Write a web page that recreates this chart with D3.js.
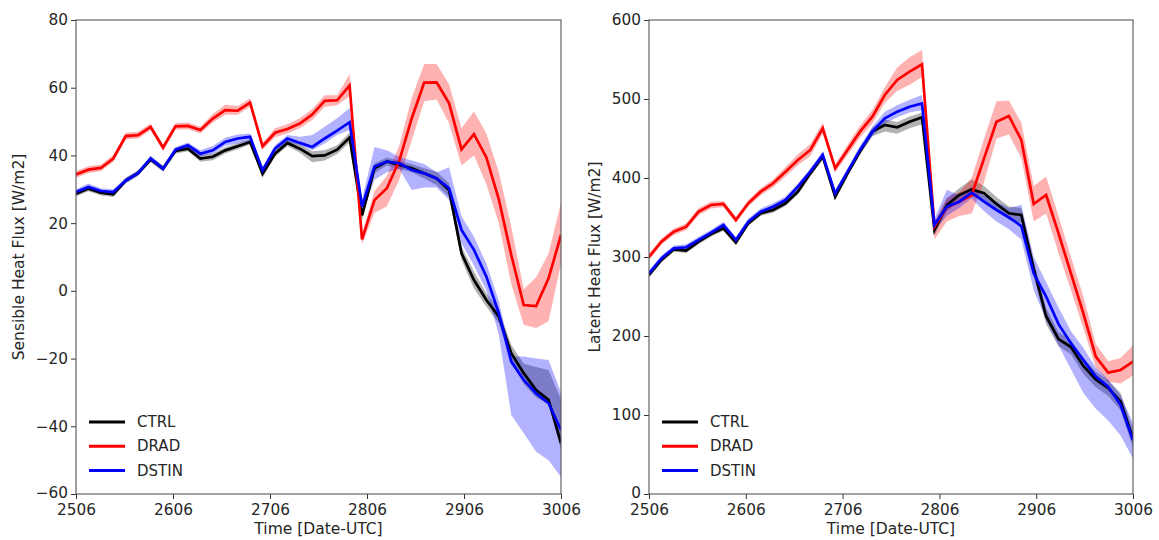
<!DOCTYPE html>
<html>
<head>
<meta charset="utf-8">
<script src="https://cdn.jsdelivr.net/npm/d3@7"></script>
<style>
  html, body { margin: 0; padding: 0; background: #fff; }
  svg { display: block; }
  text { font-family: "DejaVu Sans", sans-serif; fill: #262626; }
</style>
</head>
<body>
<svg id="chart" width="1159" height="540"></svg>
<script>
// 3-hourly ensemble output, 25/06 00 UTC to 30/06 21 UTC (40 steps)
const stepCount = 40;
const dayLabels = ["2506", "2606", "2706", "2806", "2906", "3006"];
const runNames = ["CTRL", "DRAD", "DSTIN"];
const runColors = ["#000000", "#ff0000", "#0000ff"];

// ---- Sensible heat flux [W/m2]: ensemble mean, lower and upper envelope ----
const shfCtrl = [28.7, 30.2, 29.0, 28.5, 32.6, 34.8, 38.8, 36.1, 41.3, 42.0, 39.1, 39.6, 41.5, 42.7, 44.0, 34.6, 40.5, 43.7, 42.0, 39.8, 40.0, 41.7, 45.3, 22.3, 36.2, 38.2, 37.2, 36.2, 34.7, 33.2, 29.8, 11.1, 3.2, -2.7, -7.6, -18.4, -24.3, -29.3, -32.2, -45.0];
const shfCtrlLo = [27.9, 29.4, 28.2, 27.7, 31.8, 34.0, 38.0, 35.2, 40.5, 41.2, 38.1, 38.6, 40.6, 41.8, 43.2, 33.4, 39.6, 42.8, 40.8, 38.0, 38.5, 40.4, 43.8, 20.8, 34.7, 37.0, 36.0, 35.0, 33.2, 31.2, 27.8, 9.1, 0.7, -4.7, -9.6, -20.9, -27.5, -31.5, -33.5, -47.0];
const shfCtrlHi = [29.5, 31.0, 29.8, 29.3, 33.4, 35.6, 39.6, 37.0, 42.1, 42.8, 40.1, 40.6, 42.4, 43.6, 44.8, 35.8, 41.4, 44.6, 43.2, 41.2, 41.5, 43.0, 46.8, 23.8, 37.7, 39.4, 38.4, 37.4, 36.2, 35.2, 31.8, 13.1, 5.7, -0.7, -5.6, -15.9, -21.5, -22.5, -23.4, -32.0];

const shfDrad = [34.4, 35.8, 36.3, 39.1, 45.7, 46.0, 48.4, 42.3, 48.6, 48.7, 47.5, 50.9, 53.4, 53.2, 55.6, 42.7, 46.7, 47.8, 49.4, 52.1, 56.1, 56.3, 60.7, 15.2, 26.8, 30.3, 38.5, 51.0, 61.5, 61.6, 55.4, 41.8, 46.3, 39.4, 27.0, 10.6, -4.2, -4.5, 3.7, 16.5];
const shfDradLo = [33.4, 34.8, 35.3, 38.1, 44.7, 45.0, 47.4, 41.3, 47.6, 47.7, 46.5, 49.7, 52.0, 52.0, 54.4, 41.7, 45.4, 46.5, 48.0, 50.5, 54.4, 54.8, 57.5, 13.7, 23.0, 25.0, 33.0, 44.5, 56.0, 56.5, 49.5, 37.0, 40.0, 31.5, 20.0, 2.0, -10.0, -11.0, -9.0, 8.0];
const shfDradHi = [35.4, 36.8, 37.3, 40.1, 46.7, 47.0, 49.4, 43.3, 49.6, 49.7, 48.5, 52.2, 55.0, 54.6, 56.9, 43.7, 48.0, 49.2, 51.0, 53.7, 57.8, 57.8, 64.0, 16.7, 29.5, 34.0, 43.0, 57.0, 67.0, 67.0, 61.0, 48.0, 53.0, 46.5, 35.0, 19.0, 0.5, 4.0, 11.0, 26.0];

const shfDstin = [29.2, 30.7, 29.5, 29.2, 32.6, 34.8, 39.1, 36.1, 41.7, 43.0, 40.5, 41.5, 44.0, 45.0, 45.5, 35.6, 42.0, 45.0, 43.7, 42.5, 45.0, 47.3, 49.8, 24.9, 36.7, 38.2, 37.7, 35.7, 34.7, 33.2, 30.3, 18.0, 12.1, 4.2, -6.6, -20.9, -26.3, -30.3, -33.2, -41.1];
const shfDstinLo = [28.4, 29.9, 28.7, 28.4, 31.8, 34.0, 38.3, 35.3, 40.9, 42.2, 39.7, 40.5, 42.8, 43.5, 44.3, 34.6, 41.0, 44.0, 43.0, 41.5, 43.5, 46.0, 47.5, 22.0, 32.8, 35.0, 36.0, 29.8, 30.5, 30.5, 26.8, 14.0, 7.5, 0.0, -13.0, -36.7, -42.0, -47.5, -50.0, -55.0];
const shfDstinHi = [30.0, 31.7, 30.3, 30.0, 33.4, 35.6, 39.9, 36.9, 42.5, 43.8, 41.5, 42.8, 45.2, 46.2, 46.5, 36.6, 43.0, 46.0, 45.5, 46.0, 48.5, 51.0, 54.0, 27.0, 42.5, 41.5, 39.5, 38.5, 37.5, 35.0, 36.5, 22.0, 16.0, 8.0, -3.0, -19.4, -19.4, -20.0, -20.4, -30.0];

// ---- Latent heat flux [W/m2]: ensemble mean, lower and upper envelope ----
const lhfCtrl = [277.2, 296.2, 309.7, 308.0, 319.4, 329.1, 336.3, 318.2, 342.6, 355.3, 359.5, 368.0, 382.7, 405.9, 427.0, 376.4, 405.9, 433.4, 458.7, 467.1, 464.2, 471.3, 476.8, 334.2, 365.8, 378.5, 385.6, 380.6, 367.1, 355.3, 353.2, 285.0, 225.0, 196.0, 186.0, 162.0, 145.0, 134.0, 117.0, 70.0];
const lhfCtrlLo = [274, 293, 306.5, 305, 316, 326, 333, 315, 339.5, 352, 356, 364.5, 379, 402, 423, 372.5, 402, 429, 453, 459, 456, 463, 468, 327, 358, 370, 377, 372, 358, 347, 343, 276, 215, 187, 177, 152, 135, 124, 106, 58];
const lhfCtrlHi = [280.5, 299.5, 313, 311, 322.5, 332, 339.5, 321.5, 346, 358.5, 363, 371.5, 386.5, 410, 431, 380.5, 410, 437.5, 464, 474, 471, 478, 483, 342, 374, 387, 398, 390, 376, 364, 362, 295, 235, 205, 195, 172, 155, 144, 128, 82];

const lhfDrad = [300.0, 319.5, 332.1, 338.4, 357.4, 365.8, 367.1, 346.9, 368.0, 382.7, 393.3, 408.0, 422.8, 435.5, 462.9, 412.3, 435.5, 458.7, 477.7, 505.1, 524.1, 534.6, 543.9, 338.4, 362.9, 370.0, 378.5, 424.9, 471.3, 478.5, 448.1, 367.1, 378.5, 329.9, 279.3, 228.7, 173.8, 153.6, 157.0, 167.5];
const lhfDradLo = [296, 315.5, 328, 334, 353, 361.5, 363, 343, 364, 378, 388, 402, 416, 428, 456, 407, 429, 451, 469, 495, 510, 518, 528, 322, 345, 352, 355, 395, 450, 455, 425, 345, 355, 305, 258, 210, 160, 142, 140, 150];
const lhfDradHi = [304, 323.5, 336, 342.5, 362, 370, 371, 351, 372, 387, 398, 414, 430, 443, 470, 417, 442, 466, 486, 515, 540, 553, 562, 345, 375, 382, 400, 450, 497, 498, 470, 390, 402, 352, 300, 250, 190, 168, 172, 188];

const lhfDstin = [279.4, 298.3, 311.0, 312.3, 321.6, 330.8, 340.5, 321.6, 344.7, 357.4, 363.7, 372.2, 389.0, 408.0, 429.1, 380.6, 408.0, 435.5, 458.7, 475.6, 484.0, 490.3, 494.5, 340.5, 363.7, 370.0, 381.4, 370.0, 359.5, 350.2, 339.2, 279.3, 249.8, 215.0, 190.7, 169.6, 148.6, 135.9, 112.7, 68.0];
const lhfDstinLo = [276, 295, 307.5, 308.5, 318, 327, 337, 318, 341, 353.5, 359.5, 368, 385, 404, 425, 376.5, 404, 431, 453, 469, 477, 483, 486, 334, 352, 362, 374, 358, 345, 335, 322, 258, 220, 188, 158, 128, 108, 93, 74, 45];
const lhfDstinHi = [283, 302, 314.5, 316, 325.5, 334.5, 344.5, 325, 348.5, 361.5, 368, 376.5, 393, 412, 434, 384.5, 412, 440.5, 465, 484, 492, 499, 505, 348, 385, 378, 389, 378, 370, 362, 366, 300, 268, 236, 206, 185, 160, 145, 125, 90];

const shfTicks = [-60, -40, -20, 0, 20, 40, 60, 80];
const lhfTicks = [0, 100, 200, 300, 400, 500, 600];

const panels = [
  {
    frame: { left: 76, right: 561, top: 20, bottom: 494 },
    yDomain: [-60, 80], yTicks: shfTicks,
    yTitle: "Sensible Heat Flux [W/m2]", yTitleX: 19,
    legend: { x: 89, y: 422 },
    runs: [
      { mean: shfCtrl, lo: shfCtrlLo, hi: shfCtrlHi },
      { mean: shfDrad, lo: shfDradLo, hi: shfDradHi },
      { mean: shfDstin, lo: shfDstinLo, hi: shfDstinHi }
    ]
  },
  {
    frame: { left: 649, right: 1133, top: 20, bottom: 494 },
    yDomain: [0, 600], yTicks: lhfTicks,
    yTitle: "Latent Heat Flux [W/m2]", yTitleX: 595,
    legend: { x: 662, y: 422 },
    runs: [
      { mean: lhfCtrl, lo: lhfCtrlLo, hi: lhfCtrlHi },
      { mean: lhfDrad, lo: lhfDradLo, hi: lhfDradHi },
      { mean: lhfDstin, lo: lhfDstinLo, hi: lhfDstinHi }
    ]
  }
];

const svg = d3.select("#chart");
const steps = d3.range(stepCount);
// day labels sit evenly across the full span of the run
const dayTickPos = dayLabels.map((_, k) => k * (stepCount - 1) / (dayLabels.length - 1));

panels.forEach((p, pi) => {
  const f = p.frame;
  const x = d3.scaleLinear().domain([0, stepCount - 1]).range([f.left, f.right]);
  const y = d3.scaleLinear().domain(p.yDomain).range([f.bottom, f.top]);

  const clipId = "clip" + pi;
  svg.append("clipPath").attr("id", clipId)
    .append("rect")
    .attr("x", f.left).attr("y", f.top)
    .attr("width", f.right - f.left).attr("height", f.bottom - f.top);

  const plot = svg.append("g").attr("clip-path", `url(#${clipId})`);

  // spread envelopes
  p.runs.forEach((r, ri) => {
    const area = d3.area()
      .x(i => x(i))
      .y0(i => y(r.lo[i]))
      .y1(i => y(r.hi[i]));
    plot.append("path")
      .datum(steps)
      .attr("d", area)
      .attr("fill", runColors[ri])
      .attr("fill-opacity", 0.3)
      .attr("stroke", "none");
  });

  // ensemble means
  p.runs.forEach((r, ri) => {
    const line = d3.line().x(i => x(i)).y(i => y(r.mean[i]));
    plot.append("path")
      .datum(steps)
      .attr("d", line)
      .attr("fill", "none")
      .attr("stroke", runColors[ri])
      .attr("stroke-width", 2.7)
      .attr("stroke-linejoin", "miter");
  });

  // axes
  const yAxis = d3.axisLeft(y).tickValues(p.yTicks).tickSize(5).tickPadding(3)
    .tickFormat(v => v < 0 ? "\u2212" + Math.abs(v) : String(v));
  const gy = svg.append("g").attr("transform", `translate(${f.left},0)`).call(yAxis);
  const xAxis = d3.axisBottom(x).tickValues(dayTickPos).tickSize(5).tickPadding(5)
    .tickFormat((d, k) => dayLabels[k]);
  const gx = svg.append("g").attr("transform", `translate(0,${f.bottom})`).call(xAxis);
  [gx, gy].forEach(g => {
    g.select(".domain").remove();
    g.selectAll(".tick line").attr("stroke", "#333").attr("stroke-width", 1);
    g.selectAll(".tick text").attr("font-size", 15.3).attr("fill", "#262626")
      .style("font-family", "'DejaVu Sans', sans-serif");
  });
  // lowest y label nudged up a touch so it clears the first day label
  gy.selectAll(".tick text").filter(v => v === p.yDomain[0]).attr("dy", "0.2em");

  // frame
  svg.append("rect")
    .attr("x", f.left).attr("y", f.top)
    .attr("width", f.right - f.left).attr("height", f.bottom - f.top)
    .attr("fill", "none").attr("stroke", "#555").attr("stroke-width", 1.1);

  // titles
  svg.append("text")
    .attr("x", (f.left + f.right) / 2).attr("y", 529)
    .attr("text-anchor", "middle").attr("dominant-baseline", "central")
    .attr("font-size", 15.5)
    .text("Time [Date-UTC]");
  svg.append("text")
    .attr("transform", `translate(${p.yTitleX},${(f.top + f.bottom) / 2}) rotate(-90)`)
    .attr("text-anchor", "middle").attr("dominant-baseline", "central")
    .attr("font-size", 15.5)
    .text(p.yTitle);

  // legend
  const lg = svg.append("g").attr("transform", `translate(${p.legend.x},${p.legend.y})`);
  runNames.forEach((name, ri) => {
    const row = lg.append("g").attr("transform", `translate(0,${ri * 24.3})`);
    row.append("line").attr("x1", 0).attr("x2", 36).attr("y1", 0).attr("y2", 0)
      .attr("stroke", runColors[ri]).attr("stroke-width", 3);
    row.append("text").attr("x", 48).attr("y", 0)
      .attr("dominant-baseline", "central").attr("font-size", 15)
      .text(name);
  });
});
</script>
</body>
</html>
